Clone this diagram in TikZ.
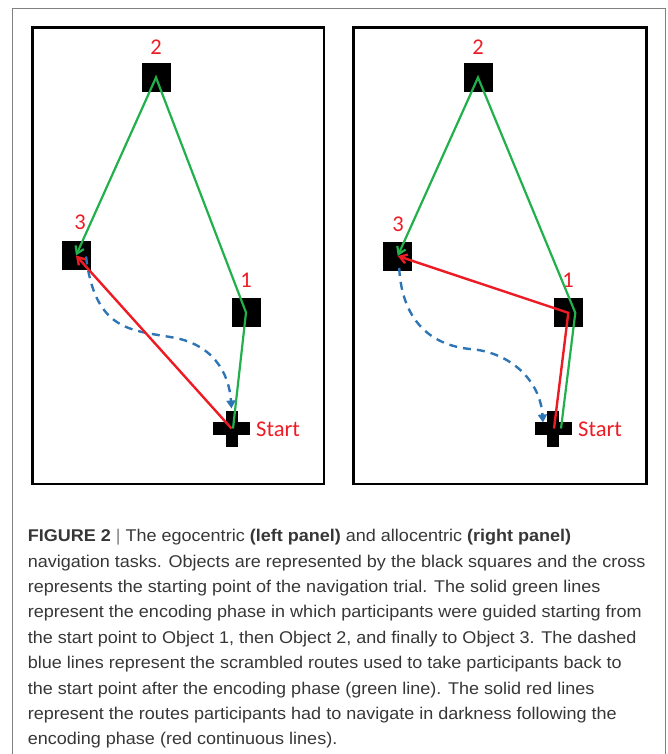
\documentclass[tikz,border=0pt]{standalone}
\usepackage{fontspec}
\usetikzlibrary{arrows.meta}
\newfontfamily\capfont[FakeStretch=1.06]{Liberation Sans}
\newfontfamily\labfont{Carlito}
\definecolor{routegreen}{RGB}{34,176,76}
\definecolor{routered}{RGB}{237,28,36}
\definecolor{routeblue}{RGB}{46,117,182}
\definecolor{captext}{RGB}{55,55,55}
\tikzset{
  panel/.style={draw=black, line width=2.6pt},
  object/.style={fill=black, minimum size=29pt, inner sep=0pt, outer sep=0pt},
  marklabel/.style={text=routered, font=\labfont\fontsize{22.5}{22}\selectfont, inner sep=0pt},
  encode/.style={draw=routegreen, line width=2.2pt, line join=miter, -{Straight Barb[length=7pt,width=9pt]}},
  recall/.style={draw=routered, line width=2.4pt, line join=miter, -{Straight Barb[length=7pt,width=9pt]}},
  scramble/.style={draw=routeblue, line width=2.4pt, dash pattern=on 8pt off 6pt, -{Triangle[length=8pt,width=9pt]}},
  capline/.style={anchor=base west, inner sep=0pt, text=captext, font=\capfont\fontsize{17}{20}\selectfont}
}
\newcommand{\startcross}[1]{%
  \fill ([shift={(-6,-18)}]#1) rectangle ([shift={(6,18)}]#1);
  \fill ([shift={(-18.5,-6.5)}]#1) rectangle ([shift={(18.5,6.5)}]#1);}
\begin{document}
\begin{tikzpicture}[x=1pt,y=-1pt]
\useasboundingbox (0,0) rectangle (667,754);
% outer frame
\draw[gray, line width=1.2pt] (12.5,754) -- (12.5,8.5) -- (665.5,8.5) -- (665.5,754);

% ---------- left panel: egocentric ----------
\draw[panel] (32.5,27.5) rectangle (324,484);
\node[object] (o2L) at (156,77.5) {};
\node[object] (o3L) at (76,255.5) {};
\node[object] (o1L) at (246,312.5) {};
\coordinate (sL) at (231.5,428.5);
\startcross{sL}
\node[marklabel] (n2L) at (156,47) {2};
\node[marklabel] (n3L) at (80,222) {3};
\node[marklabel] (n1L) at (246,280) {1};
\node[marklabel, anchor=west] (tL) at (256,429) {Start};

\draw[scramble] ([shift={(10,1)}]o3L.center)
  .. controls (95,330) and (130,330) .. (170,337)
  .. controls (212,343) and (229,372) .. ([shift={(0,-20)}]sL);
\draw[recall] (sL) -- (o3L.center);
\draw[encode] ([shift={(1.5,0)}]sL) -- (o1L.center) -- (o2L.center) -- (o3L.center);

% ---------- right panel: allocentric ----------
\draw[panel] (353.5,27.5) rectangle (646.5,484);
\node[object] (o2R) at (478,77.5) {};
\node[object] (o3R) at (397.7,256) {};
\node[object] (o1R) at (568.3,312.8) {};
\coordinate (sR) at (553,428.5);
\startcross{sR}
\node[marklabel] (n2R) at (478,47) {2};
\node[marklabel] (n3R) at (398,224) {3};
\node[marklabel] (n1R) at (568,280) {1};
\node[marklabel, anchor=west] (tR) at (578,429) {Start};

\draw[scramble] ([shift={(1.5,12)}]o3R.center)
  .. controls (402,320) and (430,345) .. (470,349)
  .. controls (510,352) and (540,380) .. ([shift={(-10,-6)}]sR);
\draw[recall] ([shift={(1,0)}]sR) -- (o1R.center) -- (o3R.center);
\draw[encode] ([shift={(8,0)}]sR) -- ([shift={(7,0)}]o1R.center) -- (o2R.center) -- (o3R.center);

% ---------- caption ----------
\node[capline] (c1) at (27.6,541.7) {\textbf{FIGURE 2} {\color{gray}|} The egocentric \textbf{(left panel)} and allocentric \textbf{(right panel)}};
\node[capline] (c2) at (27.6,567.1) {navigation tasks. Objects are represented by the black squares and the cross};
\node[capline] (c3) at (27.6,592.5) {represents the starting point of the navigation trial. The solid green lines};
\node[capline] (c4) at (27.6,617.9) {represent the encoding phase in which participants were guided starting from};
\node[capline] (c5) at (27.6,643.3) {the start point to Object 1, then Object 2, and finally to Object 3. The dashed};
\node[capline] (c6) at (27.6,668.7) {blue lines represent the scrambled routes used to take participants back to};
\node[capline] (c7) at (27.6,694.1) {the start point after the encoding phase (green line). The solid red lines};
\node[capline] (c8) at (27.6,719.5) {represent the routes participants had to navigate in darkness following the};
\node[capline] (c9) at (27.6,744.9) {encoding phase (red continuous lines).};
\end{tikzpicture}
\end{document}
